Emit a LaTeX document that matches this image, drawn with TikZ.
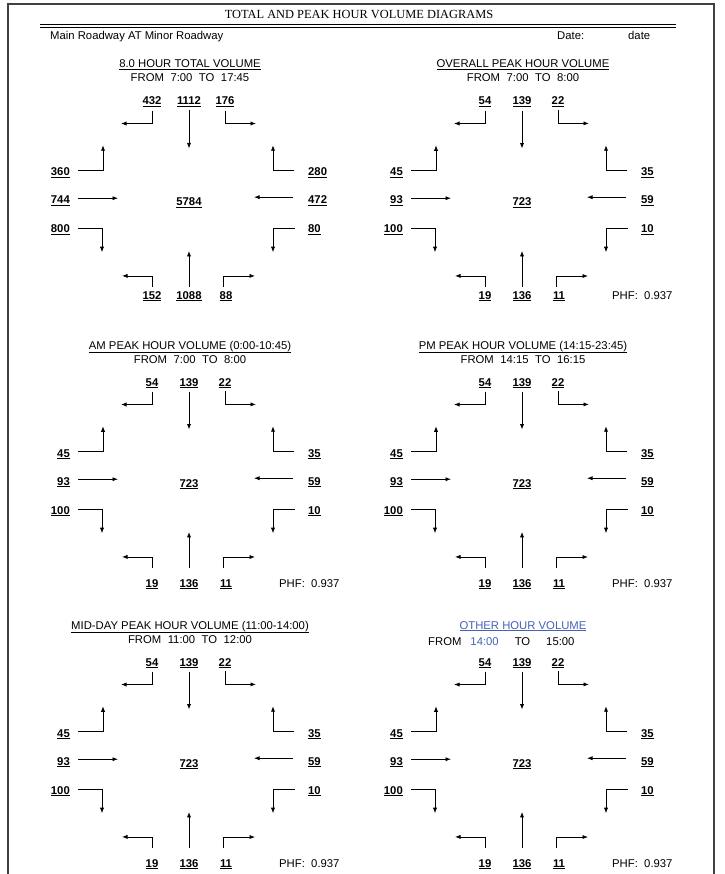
\documentclass[tikz,border=0pt]{standalone}
\usepackage{fontspec}
\setmainfont{Liberation Sans}
\newfontfamily\headfont{Liberation Serif}
\usetikzlibrary{positioning,arrows.meta}
\definecolor{otherblue}{RGB}{68,98,184}
% bold volume with a heavy underline
\newcommand{\ulnum}[1]{\setbox0=\hbox{\bfseries #1}\vtop{\copy0\kern0.8pt\hrule height 1.4pt width \wd0}}
\newcommand{\ultitle}[1]{\setbox0=\hbox{#1}\vtop{\copy0\kern1pt\hrule height 0.7pt width \wd0}}
\newcommand{\fromto}[2]{FROM\hspace{6.5pt}#1\hspace{6.5pt}TO\hspace{6.5pt}#2}

\begin{document}
\begin{tikzpicture}[
  x=1pt,y=-1pt,
  every node/.style={font=\fontsize{11.3}{13}\selectfont,inner sep=0pt},
  num/.style={anchor=base},
  numL/.style={anchor=base east},
  numR/.style={anchor=base west},
  caption/.style={anchor=base},
  head/.style={anchor=base,font=\headfont\fontsize{12.4}{14}\selectfont},
  frame/.style={draw=black!75,line width=1.2pt},
  mov/.style={->,line width=0.8pt},
  >={Latex[length=5.5pt,width=4.2pt]}]
\useasboundingbox (0,0) rectangle (724,874);
\draw[frame] (8,874) |- (714,4) -- (714,874);
\node[head] (head) at (359,19) {TOTAL AND PEAK HOUR VOLUME DIAGRAMS};
\draw[line width=1pt] (40,25) -- (676,25);
\draw[line width=1pt] (40,28) -- (676,28);
\node[anchor=base west] (road) at (50,40) {Main Roadway AT Minor Roadway};
\node[anchor=base west] (datelbl) at (557,40) {Date:};
\node[anchor=base west] (dateval) at (628,40) {date};

% captions
\foreach \dg/\cx/\ty/\ttl/\tfrom/\tto in {
  1/189/64/8.0 HOUR TOTAL VOLUME/7:00/17:45,
  2/522/64/OVERALL PEAK HOUR VOLUME/7:00/8:00,
  3/189/345/AM PEAK HOUR VOLUME (0:00-10:45)/7:00/8:00,
  4/522/345/PM PEAK HOUR VOLUME (14:15-23:45)/14:15/16:15,
  5/189/625/MID-DAY PEAK HOUR VOLUME (11:00-14:00)/11:00/12:00}{
  \node[caption] (title\dg) at ({\cx+1},{\ty+4}) {\ultitle{\ttl}};
  \node[caption] (from\dg) at ({\cx+1},{\ty+18}) {\fromto{\tfrom}{\tto}};
}
\node[caption,text=otherblue] (title6) at (523,629) {\ultitle{OTHER HOUR VOLUME}};
\node[anchor=base west] (from6) at (428,645)
  {FROM\hspace{9pt}\textcolor{otherblue}{14:00}\hspace{16pt}TO\hspace{16pt}15:00};

% turning movements
\foreach \dg/\cx/\ty/\bgap/\sbR/\sbT/\sbL/\ebL/\ebT/\ebR/\wbR/\wbT/\wbL/\nbL/\nbT/\nbR/\tot in {
  1/189/64/4/432/1112/176/360/744/800/280/472/80/152/1088/88/5784,
  2/522/64/4/54/139/22/45/93/100/35/59/10/19/136/11/723,
  3/189/345/11/54/139/22/45/93/100/35/59/10/19/136/11/723,
  4/522/345/11/54/139/22/45/93/100/35/59/10/19/136/11/723,
  5/189/625/11/54/139/22/45/93/100/35/59/10/19/136/11/723,
  6/522/625/11/54/139/22/45/93/100/35/59/10/19/136/11/723}{
  \node[num] (sbR\dg) at ({\cx-37},{\ty+41}) {\ulnum{\sbR}};
  \node[num] (sbT\dg) at (\cx,{\ty+41}) {\ulnum{\sbT}};
  \node[num] (sbL\dg) at ({\cx+36},{\ty+41}) {\ulnum{\sbL}};
  \node[numL] (ebL\dg) at ({\cx-119},{\ty+112}) {\ulnum{\ebL}};
  \node[numL] (ebT\dg) at ({\cx-119},{\ty+140}) {\ulnum{\ebT}};
  \node[numL] (ebR\dg) at ({\cx-119},{\ty+169}) {\ulnum{\ebR}};
  \node[num] (tot\dg) at (\cx,{\ty+142}) {\ulnum{\tot}};
  \node[numR] (wbR\dg) at ({\cx+119},{\ty+112}) {\ulnum{\wbR}};
  \node[numR] (wbT\dg) at ({\cx+119},{\ty+140}) {\ulnum{\wbT}};
  \node[numR] (wbL\dg) at ({\cx+119},{\ty+169}) {\ulnum{\wbL}};
  \node[num] (nbL\dg) at ({\cx-37},{\ty+231+\bgap}) {\ulnum{\nbL}};
  \node[num] (nbT\dg) at (\cx,{\ty+231+\bgap}) {\ulnum{\nbT}};
  \node[num] (nbR\dg) at ({\cx+37},{\ty+231+\bgap}) {\ulnum{\nbR}};
  \draw[mov] (sbR\dg.south) ++(0,3) |- ++(-31,13);
  \draw[mov] (sbT\dg.south) ++(0,3) -- ++(0,38);
  \draw[mov] (sbL\dg.south) ++(0,3) |- ++(31,13);
  \draw[mov] (ebL\dg.east) ++(8,-3) -- ++(25,0) -- ++(0,-25);
  \draw[mov] (ebT\dg.east) ++(8,-3) -- ++(40,0);
  \draw[mov] (ebR\dg.east) ++(8,-2) -- ++(24,0) -- ++(0,24);
  \draw[mov] (wbR\dg.west) ++(-14,-3) -- ++(-21,0) -- ++(0,-25);
  \draw[mov] (wbT\dg.west) ++(-15,-4) -- ++(-39,0);
  \draw[mov] (wbL\dg.west) ++(-13,-2) -- ++(-22,0) -- ++(0,24);
  \draw[mov] (nbL\dg.north) ++(0,-\bgap) |- ++(-30,-11);
  \draw[mov] (nbT\dg.north) ++(0,-\bgap) -- ++(0,-36);
  \draw[mov] (nbR\dg.north) ++(-3,-\bgap) |- ++(32,-11);
}
% peak hour factors
\foreach \dg/\cx/\ty/\bgap in {2/522/64/4,3/189/345/11,4/522/345/11,5/189/625/11,6/522/625/11}{
  \node[anchor=base west] (phf\dg) at ({\cx+90},{\ty+231+\bgap}) {PHF:\ \ 0.937};
}
\end{tikzpicture}
\end{document}
